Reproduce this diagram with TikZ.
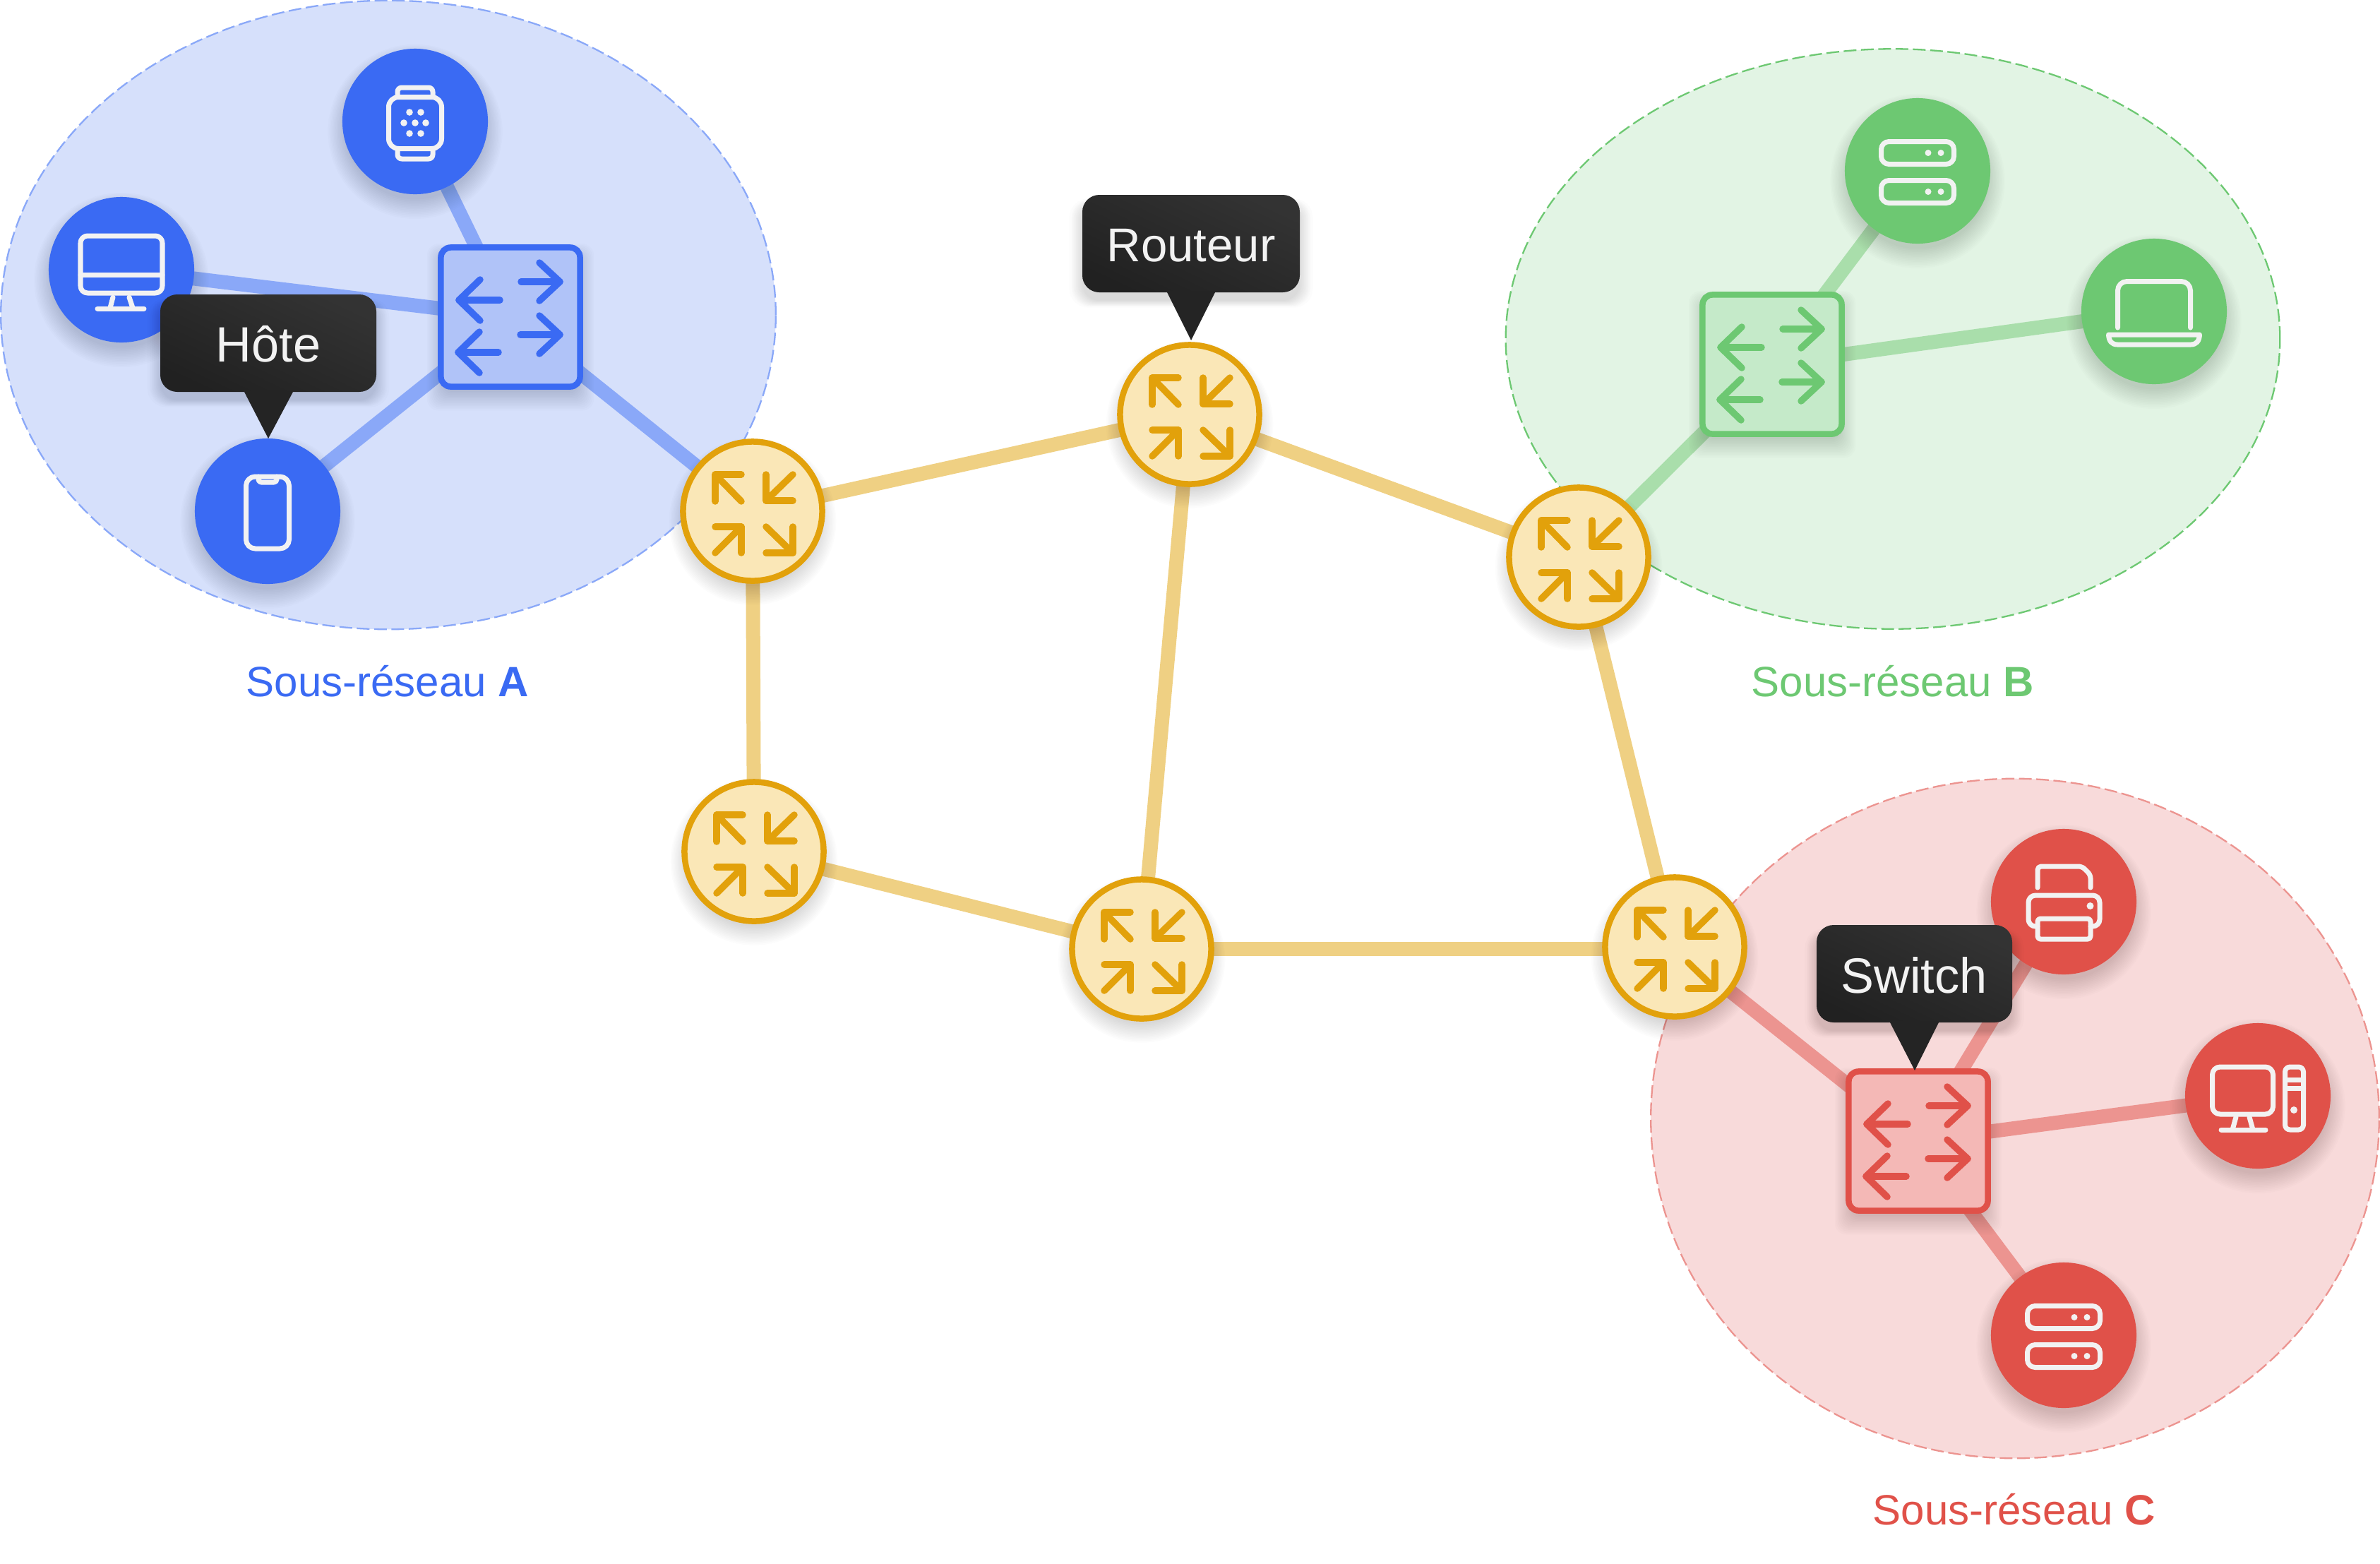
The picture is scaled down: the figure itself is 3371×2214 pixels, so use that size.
\documentclass[tikz,border=0pt]{standalone}
\usepackage{fontspec}
\setmainfont{Liberation Sans}
\usetikzlibrary{shapes.geometric,shadows}
\definecolor{bluec}{HTML}{3A6AF3}
\definecolor{greenc}{HTML}{6DC872}
\definecolor{redc}{HTML}{E05149}
\definecolor{yelc}{HTML}{E2A10B}
\definecolor{bluel}{HTML}{8AA8F8}
\definecolor{greenl}{HTML}{A9DEAB}
\definecolor{redl}{HTML}{EC9490}
\definecolor{yell}{HTML}{EFD083}
\definecolor{bluea}{HTML}{D6E0FB}
\definecolor{greena}{HTML}{E2F4E4}
\definecolor{reda}{HTML}{F8DADA}
\definecolor{blues}{HTML}{B0C3F8}
\definecolor{greens}{HTML}{C5EAC9}
\definecolor{reds}{HTML}{F4B8B6}
\definecolor{yels}{HTML}{FAE7B7}
\definecolor{iconw}{HTML}{F2F2F2}
\pgfdeclarelayer{back}
\pgfdeclarelayer{links}
\pgfsetlayers{back,links,main}
\tikzset{
  softlayer/.style={general shadow={shadow scale=#1,shadow xshift=0cm,shadow yshift=-0.12cm,fill=black,fill opacity=0.013,draw=none}},
  softshadow/.style={softlayer=1.20,softlayer=1.18,softlayer=1.16,softlayer=1.14,softlayer=1.12,softlayer=1.10,softlayer=1.08,softlayer=1.06,softlayer=1.04,softlayer=1.02,softlayer=1.0,softlayer=0.98,softlayer=0.96},
  tipshadow/.style={softlayer=1.12,softlayer=1.10,softlayer=1.09,softlayer=1.08,softlayer=1.07,softlayer=1.06,softlayer=1.05,softlayer=1.04,softlayer=1.03,softlayer=1.02,softlayer=1.01,softlayer=1.0},
  subnet/.style n args={3}{ellipse,inner sep=0,fill=#1,draw=#2,line width=0.023cm,dash pattern=on 0.18cm off 0.065cm},
  hostnode/.style={circle,inner sep=0,minimum size=2.06cm,fill=#1,softshadow},
  routernode/.style={circle,inner sep=0,minimum size=1.97cm,fill=yels,draw=yelc,line width=0.085cm,softshadow},
  switchnode/.style n args={2}{rectangle,rounded corners=0.14cm,inner sep=0,minimum size=1.97cm,fill=#1,draw=#2,line width=0.085cm,softshadow},
  linkline/.style={line width=0.2cm,draw=#1},
  tiptext/.style={text=iconw,font=\fontsize{#1}{23pt}\selectfont,inner sep=0},
  sublabel/.style={text=#1,font=\fontsize{17.07pt}{21pt}\selectfont,inner sep=0,anchor=base},
  iconline/.style={draw=iconw,line width=0.07cm,line join=round,line cap=round},
  pics/routericon/.style={code={
    \begin{scope}[draw=yelc,line width=0.095cm,line cap=round,line join=round]
    \draw (-16,-52) -- (-53,-52) -- (-53,-14); \draw (-53,-52) -- (-16,-14);
    \draw (19,-52) -- (19,-15) -- (57,-15); \draw (19,-15) -- (57,-52);
    \draw (-53,22) -- (-16,22) -- (-16,59); \draw (-16,22) -- (-53,59);
    \draw (19,59) -- (57,59) -- (57,22); \draw (57,59) -- (19,22);
    \end{scope}}},
  pics/switchicon/.style={code={
    \begin{scope}[draw=#1,line width=0.095cm,line cap=round,line join=round]
    \draw (15,-50) -- (70,-50); \draw (41,-77) -- (70,-50) -- (41,-23);
    \draw (14,25) -- (70,25); \draw (41,-2) -- (70,25) -- (41,52);
    \draw (-15,-24) -- (-73,-24); \draw (-43,-53) -- (-73,-24) -- (-43,5);
    \draw (-17,50) -- (-74,50); \draw (-44,21) -- (-74,50) -- (-44,79);
    \end{scope}}},
  pics/servericon/.style={code={
    \draw[iconline,rounded corners=0.11cm] (-51.5,-41.5) rectangle (51.5,-9.5);
    \draw[iconline,rounded corners=0.11cm] (-51.5,13.5) rectangle (51.5,45.5);
    \foreach \a/\b in {15/-25.5,33/-25.5,15/29.5,33/29.5} \fill[iconw] (\a,\b) circle[radius=0.045cm];
    }},
  pics/desktopicon/.style={code={
    \draw[iconline,rounded corners=0.1cm] (-58,-48) rectangle (58,33);
    \draw[iconline] (-58,7) -- (58,7);
    \draw[iconline] (-12,39) -- (-16,54); \draw[iconline] (11,39) -- (16,54);
    \draw[iconline] (-34,55) -- (32,55);
    }},
  pics/watchicon/.style={code={
    \draw[iconline,rounded corners=0.14cm] (-37.5,-34.5) rectangle (37.5,38.5);
    \draw[iconline,rounded corners=0.06cm] (-25,-36) -- (-25,-48) -- (25,-48) -- (25,-36);
    \draw[iconline,rounded corners=0.06cm] (-25,40) -- (-25,53) -- (25,53) -- (25,40);
    \foreach \a/\b in {-8/-13,8/-13,-16/2,0/2,15/2,-8/17,8/17} \fill[iconw] (\a,\b) circle[radius=0.048cm];
    }},
  pics/phoneicon/.style={code={
    \draw[iconline,rounded corners=0.13cm] (-30.5,-49) rectangle (30.5,53);
    \draw[iconline,rounded corners=0.04cm] (-13,-49) -- (-13,-41) -- (13,-41) -- (13,-49);
    }},
  pics/laptopicon/.style={code={
    \draw[iconline,rounded corners=0.13cm] (-51.5,23) -- (-51.5,-42.5) -- (51.5,-42.5) -- (51.5,23);
    \draw[iconline] (-64.5,33) -- (64.5,33) .. controls (64,42) and (60,47) .. (52,47) -- (-52,47) .. controls (-60,47) and (-64,42) .. (-64.5,33) -- cycle;
    }},
  pics/printericon/.style={code={
    \draw[iconline,rounded corners=0.05cm] (-37,-20) -- (-37,-50) -- (26,-50) -- (38,-38) -- (38,-20);
    \draw[iconline,rounded corners=0.1cm] (-37,35) -- (-50,35) -- (-50,-9) -- (51,-9) -- (51,35) -- (38,35);
    \draw[iconline,rounded corners=0.04cm] (-37,24) rectangle (38,53);
    \fill[iconw] (37.5,6) circle[radius=0.05cm];
    }},
  pics/pcicon/.style={code={
    \draw[iconline,rounded corners=0.11cm] (-64.5,-41) rectangle (21.5,26);
    \draw[iconline] (-31,30) -- (-36,48); \draw[iconline] (-12,30) -- (-7,48);
    \draw[iconline] (-52,48) -- (11,48);
    \draw[iconline,rounded corners=0.07cm] (38.5,-41) rectangle (64.5,48);
    \draw[iconline] (38.5,-23) -- (64.5,-23); \draw[iconline] (38.5,-11) -- (64.5,-11);
    \fill[iconw] (51,20) circle[radius=0.05cm];
    }},
}
\newcommand{\tooltipbox}[8]{%
  \path[tipshadow,rounded corners=0.24cm,bottom color=black!87,top color=black!80,shading angle=-25]
    (#1,#4) rectangle (#3,#2);
  \fill[black!86] (#5,#6) -- (#7,#4) -- ++(0,-2) -- ++(#8-#7,0) -- (#8,#4) -- cycle;
}
\begin{document}
\begin{tikzpicture}[x=0.01cm,y=-0.01cm]
\useasboundingbox (0,0) rectangle (3371,2214);
% subnets
\begin{pgfonlayer}{back}
\node[subnet={bluea}{bluel}{},minimum width=10.97cm,minimum height=8.90cm] (suba) at (550,446) {};
\node[subnet={greena}{greenc}{},minimum width=10.96cm,minimum height=8.21cm] (subb) at (2681,480) {};
\node[subnet={reda}{redl}{},minimum width=10.31cm,minimum height=9.62cm] (subc) at (2854,1584) {};
\end{pgfonlayer}
% routers
\node[routernode] (r1) at (1066,724) {};
\node[routernode] (r2) at (1685,587) {};
\node[routernode] (r3) at (2236,789) {};
\node[routernode] (r4) at (1068,1206) {};
\node[routernode] (r5) at (1617,1344) {};
\node[routernode] (r6) at (2372,1341) {};
\foreach \n in {r1,r2,r3,r4,r5,r6} \pic at (\n) {routericon};
% switches
\node[switchnode={blues}{bluec}] (sa) at (723,449) {};
\node[switchnode={greens}{greenc}] (sb) at (2510,516) {};
\node[switchnode={reds}{redc}] (sc) at (2717,1616) {};
\pic at (sa) {switchicon=bluec};
\pic at (sb) {switchicon=greenc};
\pic at (sc) {switchicon=redc};
% hosts
\node[hostnode=bluec] (watch) at (588,172) {};
\node[hostnode=bluec] (imac) at (172,382) {};
\node[hostnode=bluec] (phone) at (379,724) {};
\node[hostnode=greenc] (serverb) at (2716,242) {};
\node[hostnode=greenc] (laptop) at (3051,441) {};
\node[hostnode=redc] (printer) at (2923,1277) {};
\node[hostnode=redc] (pc) at (3198,1552) {};
\node[hostnode=redc] (serverc) at (2923,1891) {};
\pic at (watch) {watchicon};
\pic at (imac) {desktopicon};
\pic at (phone) {phoneicon};
\pic at (serverb) {servericon};
\pic at (laptop) {laptopicon};
\pic at (printer) {printericon};
\pic at (pc) {pcicon};
\pic at (serverc) {servericon};
% links
\begin{pgfonlayer}{links}
\foreach \a/\b in {r1/r2,r2/r3,r1/r4,r2/r5,r3/r6,r4/r5}
  \draw[linkline=yell] (\a.center) -- (\b.center);
\draw[linkline=yell] (r5.center) -- (r5.center -| r6.center);
\foreach \a/\b in {sa/watch,sa/imac,sa/phone,sa/r1}
  \draw[linkline=bluel] (\a.center) -- (\b.center);
\foreach \a/\b in {sb/serverb,sb/laptop,sb/r3}
  \draw[linkline=greenl] (\a.center) -- (\b.center);
\foreach \a/\b in {sc/printer,sc/pc,sc/serverc,sc/r6}
  \draw[linkline=redl] (\a.center) -- (\b.center);
\end{pgfonlayer}
% tooltips
\tooltipbox{227}{417}{533}{555}{380}{621}{346}{415}
\node[tiptext=20pt] (tiphote) at (380,487) {Hôte};
\tooltipbox{1533}{276}{1841}{414}{1687}{482}{1653}{1721}
\node[tiptext=19.1pt] (tiprouteur) at (1687,348) {Routeur};
\tooltipbox{2573}{1310}{2850}{1448}{2712}{1516}{2677}{2746}
\node[tiptext=20pt] (tipswitch) at (2711,1381) {Switch};
% labels
\node[sublabel=bluec] (laba) at (549,986) {Sous-réseau \textbf{A}};
\node[sublabel=greenc] (labb) at (2681,986) {Sous-réseau \textbf{B}};
\node[sublabel=redc] (labc) at (2853,2159) {Sous-réseau \textbf{C}};
\end{tikzpicture}
\end{document}
